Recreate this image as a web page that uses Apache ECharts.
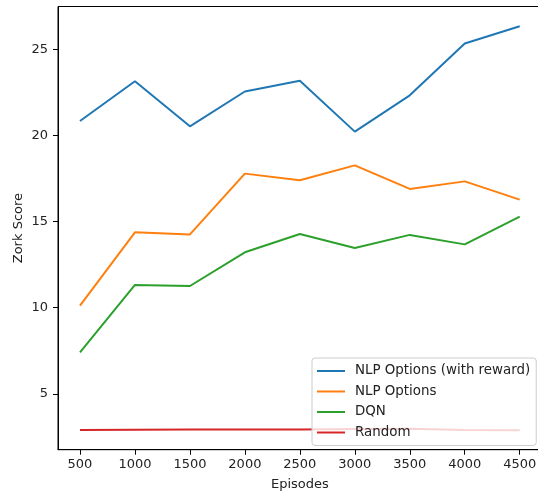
<!DOCTYPE html>
<html>
<head>
<meta charset="utf-8">
<script src="https://cdn.jsdelivr.net/npm/echarts@6/dist/echarts.min.js"></script>
<style>
  html, body { margin: 0; padding: 0; background: #fff; overflow: hidden; }
  #chart { width: 542px; height: 491px; }
</style>
</head>
<body>
<div id="chart"></div>
<script>
const episodes = [500, 1000, 1500, 2000, 2500, 3000, 3500, 4000, 4500]
const nlpReward = [20.85, 23.16, 20.54, 22.56, 23.18, 20.23, 22.34, 25.35, 26.35]
const nlpOptions = [10.12, 14.38, 14.26, 17.79, 17.40, 18.27, 16.90, 17.34, 16.28]
const dqn = [7.40, 11.32, 11.26, 13.22, 14.28, 13.47, 14.23, 13.68, 15.29]
const random = [2.90, 2.91, 2.93, 2.92, 2.92, 2.95, 2.97, 2.90, 2.88]
const xTicks = [500, 1000, 1500, 2000, 2500, 3000, 3500, 4000, 4500]
const yTicks = [5, 10, 15, 20, 25]

const names = ['NLP Options (with reward)', 'NLP Options', 'DQN', 'Random']
const colors = ['#1f77b4', '#ff7f0e', '#2ca02c', '#d62728']
const values = [nlpReward, nlpOptions, dqn, random]

const font = 'DejaVu Sans'
const chart = echarts.init(document.getElementById('chart'), null, { renderer: 'canvas' })

const series = names.map(function (name, i) {
  return {
    name: name,
    type: 'line',
    data: episodes.map(function (x, j) { return [x, values[i][j]] }),
    showSymbol: false,
    symbol: 'none',
    lineStyle: { color: colors[i], width: 2 },
    itemStyle: { color: colors[i] },
    emphasis: { disabled: true },
    z: 2,
  }
})

const option = {
  animation: false,
  backgroundColor: '#fff',
  color: colors,
  grid: {
    left: 58,
    top: 6.5,
    bottom: 41.3,
    right: 0.3,
    show: true,
    borderColor: '#000',
    borderWidth: 1,
    backgroundColor: 'transparent',
    containLabel: false,
    outerBoundsMode: 'none',
  },
  xAxis: {
    type: 'value',
    min: 300,
    max: 4700,
    name: 'Episodes',
    nameLocation: 'middle',
    nameGap: 28,
    nameMoveOverlap: false,
    nameTextStyle: { fontFamily: font, fontSize: 13, color: '#222' },
    axisLine: { show: true, lineStyle: { color: '#000', width: 1 } },
    axisTick: { show: true, length: 5, customValues: xTicks, lineStyle: { color: '#000' } },
    axisLabel: {
      customValues: xTicks, fontFamily: font, fontSize: 13, color: '#222', margin: 8,
      formatter: function (v) { return String(v) },
    },
    splitLine: { show: false },
  },
  yAxis: {
    type: 'value',
    min: 1.75,
    max: 27.5,
    name: 'Zork Score',
    nameLocation: 'middle',
    nameGap: 33,
    nameMoveOverlap: false,
    nameTextStyle: { fontFamily: font, fontSize: 13, color: '#222' },
    axisLine: { show: true, lineStyle: { color: '#000', width: 1 } },
    axisTick: { show: true, length: 5, customValues: yTicks, lineStyle: { color: '#000' } },
    axisLabel: { customValues: yTicks, fontFamily: font, fontSize: 13, color: '#222', margin: 10 },
    splitLine: { show: false },
  },
  legend: {
    orient: 'vertical',
    left: 312,
    top: 358,
    padding: [5, 6, 5, 5],
    itemWidth: 28,
    itemHeight: 2,
    itemGap: 4.5,
    icon: 'rect',
    backgroundColor: 'rgba(255,255,255,0.8)',
    borderColor: '#cccccc',
    borderWidth: 1,
    borderRadius: 3,
    textStyle: { fontFamily: font, fontSize: 13.4, color: '#222', lineHeight: 16, padding: [0, 0, 0, 5] },
    data: names,
  },
  series: series,
}
chart.setOption(option)
</script>
</body>
</html>
